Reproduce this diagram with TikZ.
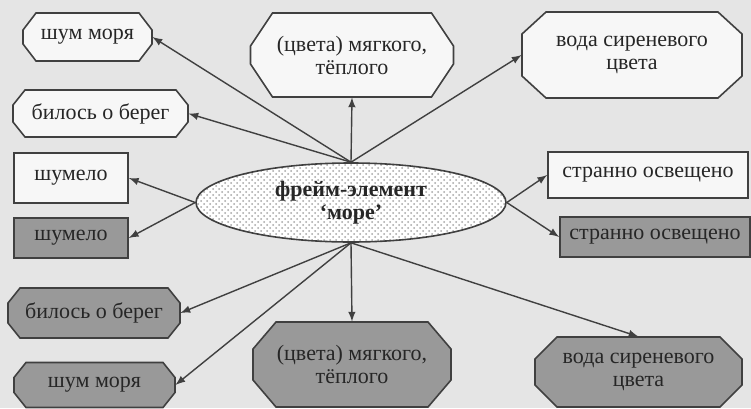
\documentclass[tikz,border=0pt]{standalone}
\usepackage{fontspec}
\setmainfont{Liberation Serif}
\usetikzlibrary{shapes.geometric,patterns}

% #1 style, #2 name, #3 x, #4 y, #5 half width, #6 half height, #7 cut x, #8 cut y, #9 text
\newcommand{\octnode}[9]{%
  \filldraw[#1] (#3-#5+#7,#4-#6) -- (#3+#5-#7,#4-#6) -- (#3+#5,#4-#6+#8) -- (#3+#5,#4+#6-#8)
     -- (#3+#5-#7,#4+#6) -- (#3-#5+#7,#4+#6) -- (#3-#5,#4+#6-#8) -- (#3-#5,#4-#6+#8) -- cycle;
  \node[minimum width=#5pt,minimum height=#6pt,inner sep=0pt] (#2) at (#3,#4) {#9};}

\begin{document}
\begin{tikzpicture}[->,>=latex,x=0.5pt,y=-0.5pt,
                    every node/.style={font=\fontsize{11}{11.5}\selectfont,align=center,text=black!85},
                    every edge/.style={draw,black!75,line width=0.7pt}]
  \tikzstyle{light}=[draw=black!75,line width=0.8pt,fill=black!3]
  \tikzstyle{dark}=[draw=black!75,line width=0.8pt,fill=black!40]
  \tikzstyle{box}=[rectangle,inner sep=0pt]
  \tikzstyle{frame}=[ellipse,draw=black!75,line width=0.8pt,inner sep=0pt,
                     preaction={fill=white},pattern=crosshatch dots,pattern color=black!35]

  \useasboundingbox (0,0) rectangle (751,408);
  \fill[black!10] (0,0) rectangle (751,408);

  % centre
  \node[frame,minimum width=155pt,minimum height=39.5pt] (E) at (351,202.5)
       {\bfseries фрейм-элемент\\\bfseries `море'};

  % light side
  \octnode{light}{sm1}{87.5}{37}{64.5}{24}{13}{17}{шум моря}
  \octnode{light}{bb1}{100.5}{113.5}{87.5}{23.5}{12}{15}{билось о берег}
  \node[box,light,minimum width=57pt,minimum height=25pt]  (sh1) at (71,178)  {шумело};
  \octnode{light}{tc}{352}{55}{101.5}{42}{22}{33}{(цвета) мягкого,\\тёплого}
  \octnode{light}{tr}{632}{55}{110}{43}{24}{22}{вода сиреневого\\цвета}
  \node[box,light,minimum width=100pt,minimum height=23pt] (so1) at (648,175) {странно освещено};

  % dark side
  \node[box,dark,minimum width=57pt,minimum height=20pt]   (sh2) at (71,238)  {шумело};
  \octnode{dark}{bb2}{94}{313}{86}{25}{12}{15}{билось о берег}
  \octnode{dark}{sm2}{94.5}{385}{80.5}{22.5}{12}{15}{шум моря}
  \node[box,dark,minimum width=95pt,minimum height=20pt]   (so2) at (655,237) {странно освещено};
  \octnode{dark}{bc}{352}{364.5}{99}{42.5}{23}{27}{(цвета) мягкого,\\тёплого}
  \octnode{dark}{br}{638.5}{372}{103.5}{35}{22}{22}{вода сиреневого\\цвета}

  \path (E.north) edge (sm1.east)
                  edge (bb1.east)
                  edge (tc.south)
                  edge (tr.west)
        (E.west)  edge (sh1.east)
                  edge (sh2.east)
        (E.east)  edge (so1.west)
                  edge (so2.west)
        (E.south) edge (bb2.east)
                  edge (sm2.east)
                  edge (bc.north)
                  edge (br.north);
\end{tikzpicture}
\end{document}
